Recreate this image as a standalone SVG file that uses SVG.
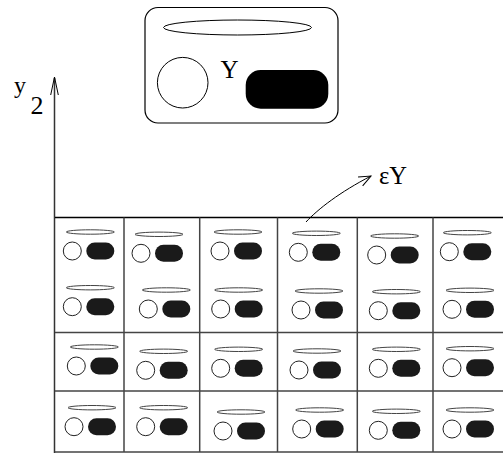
<svg xmlns="http://www.w3.org/2000/svg" xmlns:xlink="http://www.w3.org/1999/xlink" width="503" height="453" viewBox="0 0 503 453">
<style>
  .lbl { font-family: "Liberation Serif", "Times New Roman", serif; fill: #000; }
  .grid { stroke: #444; stroke-width: 1.5; fill: none; }
  .top { stroke: #000; stroke-width: 1.3; fill: none; }
  .hd { fill: none; stroke: #000; stroke-width: 1; }
</style>
<defs>
  <g id="icon">
    <ellipse cx="18" cy="-19" rx="24" ry="2.2" fill="#fff" stroke="#444" stroke-width="1"/>
    <circle cx="0" cy="0" r="9" fill="#fff" stroke="#222" stroke-width="1"/>
    <rect x="14" y="-8.5" width="28" height="17" rx="8.5" fill="#1a1a1a"/>
  </g>
  <marker id="open" markerWidth="14" markerHeight="12" refX="12" refY="6" orient="auto" markerUnits="userSpaceOnUse">
    <polyline points="0,1 12,6 0,11" fill="none" stroke="#000" stroke-width="1"/>
  </marker>
</defs>
<rect width="503" height="453" fill="#fff"/>

<g id="legend">
  <rect x="145" y="7.5" width="193" height="115.5" rx="13" fill="#fff" stroke="#000" stroke-width="1.2"/>
  <ellipse cx="237.5" cy="27.5" rx="74" ry="7.5" fill="#fff" stroke="#000" stroke-width="1"/>
  <circle cx="182.7" cy="82.7" r="25.3" fill="#fff" stroke="#000" stroke-width="1"/>
  <rect x="245.7" y="70" width="82.6" height="38.7" rx="15" fill="#000"/>
  <text class="lbl" x="220.5" y="77.5" font-size="25">Y</text>
</g>

<g id="axis">
  <line x1="54.5" y1="78" x2="54.5" y2="453" stroke="#333" stroke-width="1.5"/>
  <polyline class="hd" points="50.7,95 54.5,77 58.3,95"/>
  <text class="lbl" x="14" y="93" font-size="24">y</text>
  <text class="lbl" x="30.5" y="113.5" font-size="26">2</text>
</g>

<g id="grid">
  <line class="top" x1="55" y1="217.5" x2="503" y2="217.5"/>
  <line class="grid" x1="55" y1="332.5" x2="503" y2="332.5"/>
  <line class="grid" x1="55" y1="391" x2="503" y2="391"/>
  <line class="grid" x1="55" y1="452" x2="503" y2="452"/>
  <line class="grid" x1="124" y1="217.5" x2="124" y2="452"/>
  <line class="grid" x1="199.7" y1="217.5" x2="199.7" y2="452"/>
  <line class="grid" x1="277.5" y1="217.5" x2="277.5" y2="452"/>
  <line class="grid" x1="357.3" y1="217.5" x2="357.3" y2="452"/>
  <line class="grid" x1="433" y1="217.5" x2="433" y2="452"/>
</g>

<g id="connectors">
  <path d="M306,222 C318,209 340,192 371,176" fill="none" stroke="#000" stroke-width="1" marker-end="url(#open)"/>
</g>
<g id="eps-label">
  <text class="lbl" x="379" y="183.5" font-size="24.5">εY</text>
</g>

<g id="cells">
  <use id="c11" xlink:href="#icon" x="72.3" y="251"/>
  <use id="c12" xlink:href="#icon" x="141" y="253.3"/>
  <use id="c13" xlink:href="#icon" x="220" y="251"/>
  <use id="c14" xlink:href="#icon" x="298.3" y="252.3"/>
  <use id="c15" xlink:href="#icon" x="376.7" y="255"/>
  <use id="c16" xlink:href="#icon" x="449.3" y="251.7"/>

  <use id="c21" xlink:href="#icon" x="72.3" y="306.7"/>
  <use id="c22" xlink:href="#icon" x="148.3" y="309"/>
  <use id="c23" xlink:href="#icon" x="220.7" y="309"/>
  <use id="c24" xlink:href="#icon" x="301" y="310"/>
  <use id="c25" xlink:href="#icon" x="378.3" y="310.7"/>
  <use id="c26" xlink:href="#icon" x="452" y="309.3"/>

  <use id="c31" xlink:href="#icon" x="76.3" y="366"/>
  <use id="c32" xlink:href="#icon" x="145.7" y="370.3"/>
  <use id="c33" xlink:href="#icon" x="220.7" y="368.3"/>
  <use id="c34" xlink:href="#icon" x="299" y="370"/>
  <use id="c35" xlink:href="#icon" x="378.3" y="368.3"/>
  <use id="c36" xlink:href="#icon" x="452" y="367.7"/>

  <use id="c41" xlink:href="#icon" x="74" y="426.7"/>
  <use id="c42" xlink:href="#icon" x="145.7" y="426.7"/>
  <use id="c43" xlink:href="#icon" x="223" y="431"/>
  <use id="c44" xlink:href="#icon" x="301.7" y="429"/>
  <use id="c45" xlink:href="#icon" x="378.3" y="430.3"/>
  <use id="c46" xlink:href="#icon" x="452" y="429"/>
</g>
</svg>
